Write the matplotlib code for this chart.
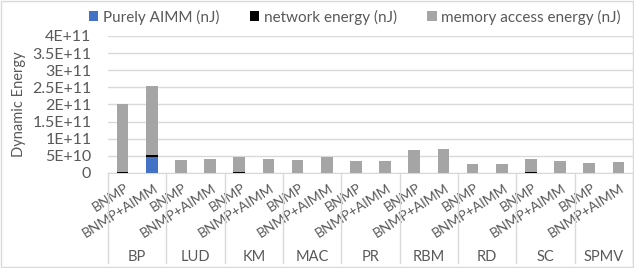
import matplotlib.pyplot as plt
import matplotlib.transforms as mtrans
import numpy as np
from matplotlib.patches import Rectangle

plt.rcParams['font.family'] = ['Lato', 'DejaVu Sans']

groups = ['BP', 'LUD', 'KM', 'MAC', 'PR', 'RBM', 'RD', 'SC', 'SPMV']
configs = ['BNMP', 'BNMP+AIMM']

# values per bar, order: group0-BNMP, group0-BNMP+AIMM, group1-BNMP, ...
aimm = np.array([0, 4.8e10, 0, 0.1e10, 0, 0, 0, 0.1e10, 0, 0,
                 0, 0, 0, 0, 0, 0, 0, 0])
network = np.array([0.4e10, 0.6e10, 0, 0, 0.3e10, 0, 0, 0, 0, 0,
                    0, 0.1e10, 0, 0, 0.3e10, 0, 0, 0])
total = np.array([2.02e11, 2.53e11, 0.37e11, 0.41e11, 0.46e11, 0.41e11,
                  0.38e11, 0.48e11, 0.34e11, 0.36e11, 0.67e11, 0.69e11,
                  0.25e11, 0.27e11, 0.40e11, 0.35e11, 0.29e11, 0.31e11])
memory = total - aimm - network

yticks = [0, 5e10, 1e11, 1.5e11, 2e11, 2.5e11, 3e11, 3.5e11, 4e11]
ytick_labels = ['0', '5E+10', '1E+11', '1.5E+11', '2E+11', '2.5E+11',
                '3E+11', '3.5E+11', '4E+11']

txt = '#595959'
grid = '#D9D9D9'

fig = plt.figure(figsize=(6.34, 2.68), dpi=100)
ax = fig.add_axes([108/634, 95/268, 525/634, 137/268])

x = np.arange(len(total)) + 0.5
w = 0.4
ax.bar(x, aimm, w, color='#4472C4', label='Purely AIMM (nJ)', zorder=3)
ax.bar(x, network, w, bottom=aimm, color='#000000', label='network energy (nJ)', zorder=3)
ax.bar(x, memory, w, bottom=aimm + network, color='#A5A5A5',
       label='memory access energy (nJ)', zorder=3)

ax.set_xlim(0, len(total))
ax.set_ylim(0, 4e11)
ax.set_yticks(yticks)
ax.set_yticklabels(ytick_labels, fontsize=11.5, color=txt)
ax.yaxis.grid(True, color=grid, linewidth=1, zorder=0)
ax.tick_params(axis='y', length=0, pad=12)
for s in ['top', 'right', 'left']:
    ax.spines[s].set_visible(False)
ax.spines['bottom'].set_color(grid)

ax.set_xticks(x)
ax.set_xticklabels(configs * len(groups), rotation=33, ha='right', va='center',
                   rotation_mode='anchor', fontsize=10, color=txt)
ax.tick_params(axis='x', length=0, pad=10)
shift = mtrans.ScaledTranslation(5/100, 0, fig.dpi_scale_trans)
for lab in ax.get_xticklabels():
    lab.set_transform(lab.get_transform() + shift)

tr = ax.get_xaxis_transform()
for i in range(len(groups) + 1):
    ax.plot([2 * i, 2 * i], [0, -0.66], color=grid, linewidth=1,
            transform=tr, clip_on=False)
for i, g in enumerate(groups):
    ax.text(2 * i + 1, -0.61, g, transform=tr, ha='center', va='center',
            fontsize=10.5, color=txt)

ax.set_ylabel('Dynamic Energy', fontsize=10.5, color=txt)
ax.yaxis.set_label_coords(-0.157, 0.5)

fig.legend(loc='center', bbox_to_anchor=(355/634, 1 - 17/268), ncol=3,
           frameon=False, fontsize=11, labelcolor=txt, handlelength=0.6,
           handleheight=0.6, handletextpad=0.3, columnspacing=2.0)

fig.patches.append(Rectangle((0.002, 0.004), 0.996, 0.992, transform=fig.transFigure,
                             fill=False, edgecolor=grid, linewidth=1))

fig.savefig('out.png', dpi=100)
